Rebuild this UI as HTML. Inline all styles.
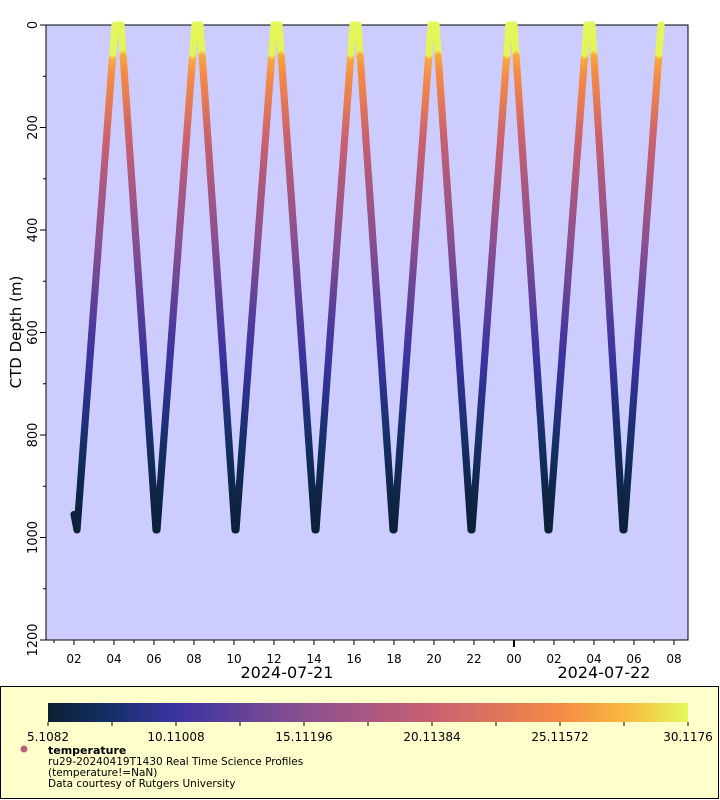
<!DOCTYPE html>
<html><head><meta charset="utf-8">
<style>
html,body{margin:0;padding:0;background:#fff;width:720px;height:800px;overflow:hidden;font-family:"DejaVu Sans","Liberation Sans",sans-serif;}
svg text{font-family:"DejaVu Sans","Liberation Sans",sans-serif;}
</style></head>
<body>
<svg id="chart" width="720" height="800" xmlns="http://www.w3.org/2000/svg">
  <defs>
    <linearGradient id="cmap" x1="0" x2="1" y1="0" y2="0">
      <stop offset="0" stop-color="#0b1f33"/>
      <stop offset="0.1" stop-color="#16306a"/>
      <stop offset="0.2" stop-color="#3a33a0"/>
      <stop offset="0.4" stop-color="#8a5090"/>
      <stop offset="0.6" stop-color="#c86070"/>
      <stop offset="0.8" stop-color="#f58a45"/>
      <stop offset="0.9" stop-color="#f8b840"/>
      <stop offset="1" stop-color="#e4f75a"/>
    </linearGradient>
  </defs>
  <rect x="46" y="25" width="642" height="615" fill="#ccccff" stroke="#000" stroke-width="1"/>
  <g id="marks"></g>
  <g id="axes"></g>
  <text transform="translate(21,332) rotate(-90)" text-anchor="middle" font-size="15">CTD Depth (m)</text>
  <text x="287" y="678" text-anchor="middle" font-size="16">2024-07-21</text>
  <text x="604" y="678" text-anchor="middle" font-size="16">2024-07-22</text>
  <g>
    <rect x="0.5" y="686.5" width="718" height="112" fill="#ffffcc" stroke="#000"/>
    <rect x="48" y="703" width="640" height="19" fill="url(#cmap)"/>
    <g id="cbticks"></g>
    <circle cx="24" cy="749" r="3.5" fill="#b86078"/>
    <text x="48" y="754" font-size="11" font-weight="bold">temperature</text>
    <text x="48" y="765" font-size="10.5">ru29-20240419T1430 Real Time Science Profiles</text>
    <text x="48" y="776" font-size="10.5">(temperature!=NaN)</text>
    <text x="48" y="787" font-size="10.5">Data courtesy of Rutgers University</text>
  </g>
</svg>
<script>
// vertices: hours since 2024-07-21 00:00 and depth (m)
const vertexHours = [2.0,2.15,4.05,4.35,6.1,6.15,8.05,8.3,10.05,10.1,12.0,12.25,14.05,14.1,15.95,16.2,17.95,18.0,19.85,20.1,21.85,21.9,23.75,24.0,25.7,25.75,27.65,27.9,29.45,29.5,31.35];
const vertexDepths = [955,985,0,0,985,985,0,0,985,985,0,0,985,985,0,0,985,985,0,0,985,985,0,0,985,985,0,0,985,985,0];
// temperature profile vs depth
const profileDepth = [0,55,62,100,150,200,300,450,600,750,900,990];
const profileTemp = [30.1,30.0,26.8,25.0,23.3,21.0,18.0,14.5,11.0,8.5,6.2,5.3];
const yTicks = [0,200,400,600,800,1000,1200];
const xTickLabels = ["02","04","06","08","10","12","14","16","18","20","22","00","02","04","06","08"];
const xTickHours = [2,4,6,8,10,12,14,16,18,20,22,24,26,28,30,32];
const cbLabels = ["5.1082","10.11008","15.11196","20.11384","25.11572","30.1176"];
const cbValues = [5.1082,10.11008,15.11196,20.11384,25.11572,30.1176];

const NS="http://www.w3.org/2000/svg";
const X0=46,X1=688,Y0=25,Y1=640;
const xOf=h=>74+(h-2)*20;
const yOf=d=>Y0+d*(Y1-Y0)/1200;
const tMin=5.1082,tMax=30.1176;
const cbX=v=>48+(v-tMin)/(tMax-tMin)*640;
const stops=[[0,[11,31,51]],[0.1,[22,48,106]],[0.2,[58,51,160]],[0.4,[138,80,144]],[0.6,[200,96,112]],[0.8,[245,138,69]],[0.9,[248,184,64]],[1,[228,247,90]]];
function color(t){let f=Math.max(0,Math.min(1,(t-tMin)/(tMax-tMin)));
 for(let i=1;i<stops.length;i++){if(f<=stops[i][0]){const a=stops[i-1],b=stops[i];const u=(f-a[0])/(b[0]-a[0]);
  const c=a[1].map((v,k)=>Math.round(v+(b[1][k]-v)*u));return `rgb(${c})`;}}return "rgb(228,247,90)";}
function tempAt(d){for(let i=1;i<profileDepth.length;i++){if(d<=profileDepth[i]){const u=(d-profileDepth[i-1])/(profileDepth[i]-profileDepth[i-1]);return profileTemp[i-1]+(profileTemp[i]-profileTemp[i-1])*u;}}return profileTemp[profileTemp.length-1];}
function mk(tag,attrs,parent){const e=document.createElementNS(NS,tag);for(const k in attrs)e.setAttribute(k,attrs[k]);parent.appendChild(e);return e;}

const marks=document.getElementById('marks');
for(let i=1;i<vertexHours.length;i++){
  const xa=xOf(vertexHours[i-1]),ya=yOf(vertexDepths[i-1]),xb=xOf(vertexHours[i]),yb=yOf(vertexDepths[i]);
  const da=vertexDepths[i-1],db=vertexDepths[i];
  const n=Math.max(2,Math.ceil(Math.hypot(xb-xa,yb-ya)/1.5));
  for(let j=0;j<=n;j++){const u=j/n;const d=da+(db-da)*u;
    const c=mk('circle',{cx:(xa+(xb-xa)*u).toFixed(2),cy:(ya+(yb-ya)*u).toFixed(2),r:3.6,fill:color(tempAt(d))},marks);
    
    
  }
}
const axes=document.getElementById('axes');
yTicks.forEach(v=>{const y=yOf(v);
  const t=mk('line',{x1:X0-6,x2:X0,y1:y,y2:y,stroke:'#000'},axes);
  
  
  const l=mk('text',{transform:`translate(${X0-9},${y}) rotate(-90)`,'text-anchor':'middle','font-size':'13'},axes);
  l.textContent=v;
  
  
});
for(let v=100;v<1200;v+=200){const y=yOf(v);const t=mk('line',{x1:X0-3,x2:X0,y1:y,y2:y,stroke:'#000'},axes);
  
  }
for(let h=1;h<=32;h++){const x=xOf(h);if(x<X0||x>X1)continue;
  const len=h===24?7:(h%2===0?5:3);
  const t=mk('line',{x1:x,x2:x,y1:Y1,y2:Y1+len,stroke:'#000','stroke-width':h===24?2:1},axes);
  
  }
xTickHours.forEach((h,i)=>{const l=mk('text',{x:xOf(h),y:Y1+23,'text-anchor':'middle','font-size':'12'},axes);
  l.textContent=xTickLabels[i];
  
  });
const cb=document.getElementById('cbticks');
for(let i=0;i<=10;i++){const x=48+i*64;const t=mk('line',{x1:x,x2:x,y1:722,y2:726,stroke:'#000'},cb);
  
  }
cbValues.forEach((v,i)=>{const l=mk('text',{x:cbX(v),y:741,'text-anchor':'middle','font-size':'12'},cb);
  l.textContent=cbLabels[i];
  
  });
</script>
</body></html>
